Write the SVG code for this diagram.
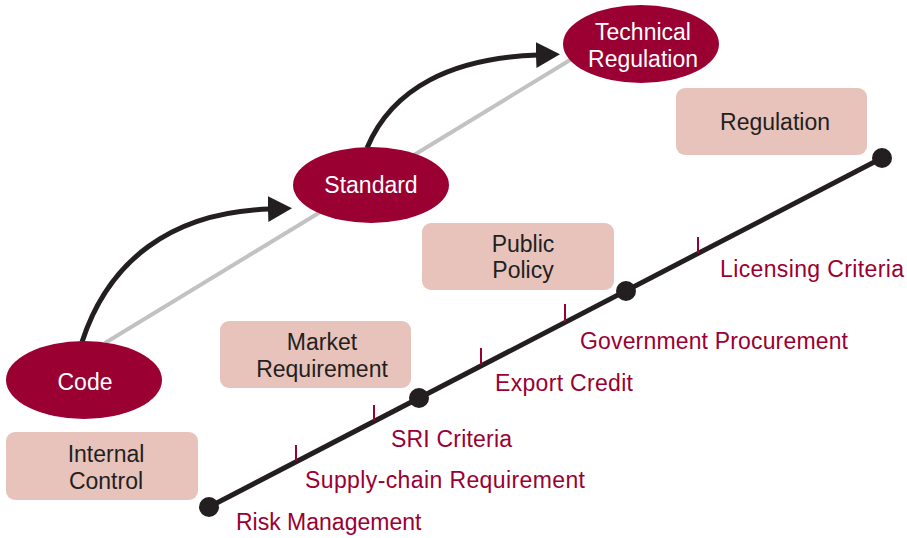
<svg xmlns="http://www.w3.org/2000/svg" width="907" height="538" viewBox="0 0 907 538">
<style>
.ell{fill:#9b0032}
.box{fill:#e7c3bb}
.wt{fill:#ffffff;font-family:"Liberation Sans",Arial,sans-serif;font-size:23px;text-anchor:middle}
.bt{fill:#231f20;font-family:"Liberation Sans",Arial,sans-serif;font-size:23px;text-anchor:middle}
.lt{fill:#9b0032;font-family:"Liberation Sans",Arial,sans-serif;font-size:23px}
.tick{stroke:#9b0032;stroke-width:2}
.arc{fill:none;stroke:#231f20;stroke-width:5}
</style>
<defs>
<marker id="ah" markerUnits="userSpaceOnUse" markerWidth="26" markerHeight="28" refX="2" refY="13" orient="auto">
<path d="M0,0 L24,13 L0,26 Z" fill="#231f20"/>
</marker>
</defs>
<g id="connectors">
<line x1="105" y1="343" x2="575" y2="57" stroke="#c2c2c2" stroke-width="4"/>
<path class="arc" d="M82,342 C108,262 170,212 270,209" marker-end="url(#ah)"/>
<path class="arc" d="M367,148 C392,88 452,58 538,55" marker-end="url(#ah)"/>
<line x1="209" y1="507" x2="882" y2="158" stroke="#231f20" stroke-width="5"/>
<line class="tick" x1="296" y1="445" x2="296" y2="461"/>
<line class="tick" x1="374" y1="405" x2="374" y2="421"/>
<line class="tick" x1="481" y1="348" x2="481" y2="365"/>
<line class="tick" x1="565" y1="304" x2="565" y2="322"/>
<line class="tick" x1="698" y1="237" x2="698" y2="253"/>
<circle cx="209" cy="507" r="10" fill="#231f20"/>
<circle cx="419" cy="398" r="10" fill="#231f20"/>
<circle cx="626" cy="291" r="10" fill="#231f20"/>
<circle cx="882" cy="158" r="10" fill="#231f20"/>
</g>
<g id="code">
<ellipse class="ell" cx="84" cy="380" rx="78" ry="39"/>
<text class="wt" x="85" y="390">Code</text>
</g>
<g id="standard">
<ellipse class="ell" cx="371" cy="185" rx="78" ry="38"/>
<text class="wt" x="371" y="193">Standard</text>
</g>
<g id="technical-regulation">
<ellipse class="ell" cx="641" cy="44" rx="78" ry="39"/>
<text class="wt" x="643" y="40">Technical</text>
<text class="wt" x="643" y="67">Regulation</text>
</g>
<g id="internal-control">
<rect class="box" x="6" y="432" width="192" height="68" rx="9"/>
<text class="bt" x="106" y="462">Internal</text>
<text class="bt" x="106" y="489">Control</text>
</g>
<g id="market-requirement">
<rect class="box" x="220" y="321" width="191" height="67" rx="9"/>
<text class="bt" x="322" y="350">Market</text>
<text class="bt" x="322" y="377">Requirement</text>
</g>
<g id="public-policy">
<rect class="box" x="422" y="223" width="192" height="67" rx="9"/>
<text class="bt" x="523" y="252">Public</text>
<text class="bt" x="523" y="278">Policy</text>
</g>
<g id="regulation">
<rect class="box" x="676" y="88" width="191" height="67" rx="9"/>
<text class="bt" x="775" y="130">Regulation</text>
</g>
<g id="labels">
<text class="lt" x="236" y="530">Risk Management</text>
<text class="lt" x="305" y="488" textLength="280">Supply-chain Requirement</text>
<text class="lt" x="391" y="447" textLength="121">SRI Criteria</text>
<text class="lt" x="495" y="391" textLength="138">Export Credit</text>
<text class="lt" x="580" y="349" textLength="268">Government Procurement</text>
<text class="lt" x="720" y="277" textLength="184">Licensing Criteria</text>
</g>
</svg>
